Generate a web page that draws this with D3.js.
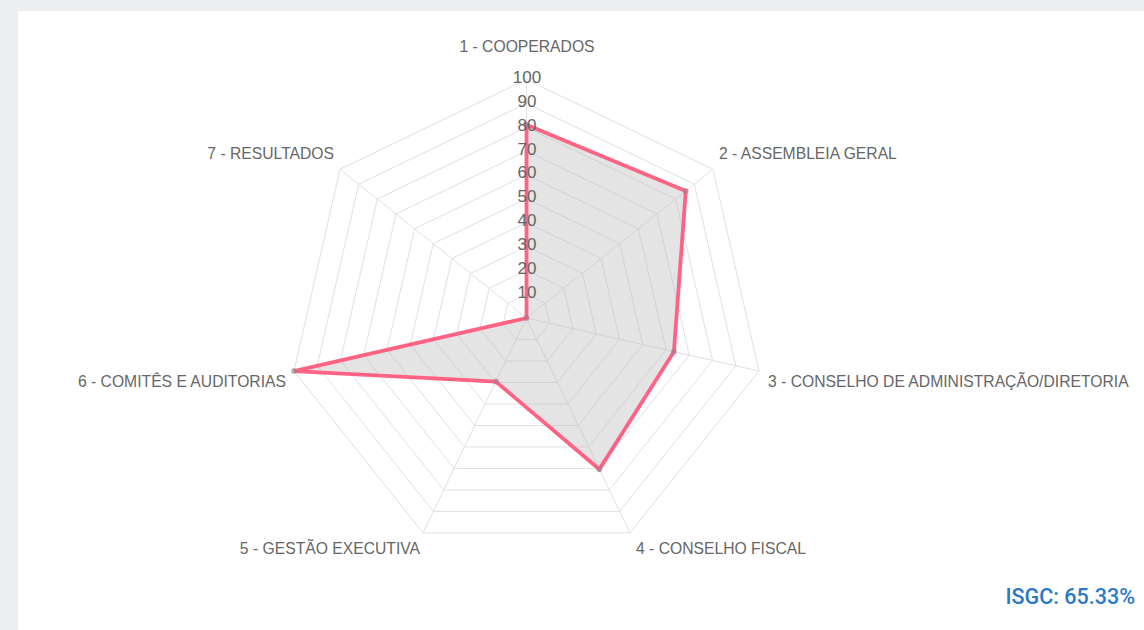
<!DOCTYPE html>
<html>
<head>
<meta charset="utf-8">
<script src="https://cdn.jsdelivr.net/npm/d3@7"></script>
<style>
  html, body { margin: 0; padding: 0; background: #eceef1; }
  svg { display: block; }
</style>
</head>
<body>
<svg id="chart" width="1144" height="630"></svg>
<script>
const categories = [
  "1 - COOPERADOS",
  "2 - ASSEMBLEIA GERAL",
  "3 - CONSELHO DE ADMINISTRAÇÃO/DIRETORIA",
  "4 - CONSELHO FISCAL",
  "5 - GESTÃO EXECUTIVA",
  "6 - COMITÊS E AUDITORIAS",
  "7 - RESULTADOS"
];
const values = [81, 85.4, 63.4, 70.4, 29.6, 100, 0];
const tickValues = [10, 20, 30, 40, 50, 60, 70, 80, 90, 100];
const scoreText = "ISGC: 65.33%";

const W = 1144, H = 630;
const svg = d3.select("#chart");

// page background + white panel
svg.append("rect").attr("x", 0).attr("y", 0).attr("width", W).attr("height", H).attr("fill", "#eceef1");
svg.append("rect").attr("x", 18).attr("y", 11).attr("width", W - 18).attr("height", H - 11).attr("fill", "#ffffff");

const cx = 526.5, cy = 318, R = 238.5;
const n = categories.length;
const r = d3.scaleLinear().domain([0, 100]).range([0, R]);
const ang = d3.scaleLinear().domain([0, n]).range([0, 2 * Math.PI]);

function pt(i, v) {
  const a = ang(i) - Math.PI / 2;
  return [cx + r(v) * Math.cos(a), cy + r(v) * Math.sin(a)];
}

const g = svg.append("g");

// grid rings
tickValues.forEach(t => {
  const pts = d3.range(n).map(i => pt(i, t));
  g.append("path")
    .attr("d", d3.line()(pts) + "Z")
    .attr("fill", "none")
    .attr("stroke", "#e0e0e0")
    .attr("stroke-width", 1);
});
// angle lines
d3.range(n).forEach(i => {
  const p = pt(i, 100);
  g.append("line")
    .attr("x1", cx).attr("y1", cy).attr("x2", p[0]).attr("y2", p[1])
    .attr("stroke", "#e0e0e0").attr("stroke-width", 1);
});

// data polygon
const dataPts = values.map((v, i) => pt(i, v));
g.append("path")
  .attr("d", d3.line()(dataPts) + "Z")
  .attr("fill", "rgba(190,190,190,0.42)")
  .attr("stroke", "rgb(255,99,132)")
  .attr("stroke-width", 3.8)
  .attr("stroke-linejoin", "miter");
g.selectAll("circle.pt").data(dataPts).enter().append("circle")
  .attr("cx", d => d[0]).attr("cy", d => d[1]).attr("r", 3)
  .attr("fill", "rgba(150,130,140,0.55)");

// tick labels
g.selectAll("text.tick").data(tickValues).enter().append("text")
  .attr("x", cx + 0.5)
  .attr("y", d => cy - r(d) - 2)
  .attr("text-anchor", "middle")
  .attr("dominant-baseline", "central")
  .attr("font-family", "'Liberation Sans', Arial, sans-serif")
  .attr("font-size", 17)
  .attr("fill", "#666")
  .text(d => d);

// point labels
const labelFont = "'Liberation Sans', Arial, sans-serif";
categories.forEach((c, i) => {
  const p = pt(i, 100);
  let anchor, dx, dy;
  if (i === 0) { anchor = "middle"; dx = 0.5; dy = -33; }
  else if (i <= 3) { anchor = "start"; dx = i === 2 ? 9 : 6; dy = i === 1 ? -16 : (i === 2 ? 10 : 16); }
  else { anchor = "end"; dx = i === 5 ? -8 : (i === 4 ? -3 : -6); dy = i === 6 ? -16 : (i === 5 ? 10 : 16); }
  svg.append("text")
    .attr("x", p[0] + dx).attr("y", p[1] + dy)
    .attr("text-anchor", anchor)
    .attr("dominant-baseline", "central")
    .attr("font-family", labelFont)
    .attr("font-size", 15.7)
    .attr("fill", "#666")
    .text(c);
});

// score
svg.append("text")
  .attr("x", 1135).attr("y", 596)
  .attr("text-anchor", "end")
  .attr("dominant-baseline", "central")
  .attr("font-family", "Roboto, 'Noto Sans', sans-serif")
  .attr("font-weight", 500)
  .attr("font-size", 21.5)
  .attr("fill", "#2a78c6")
  .text(scoreText);
</script>
</body>
</html>
